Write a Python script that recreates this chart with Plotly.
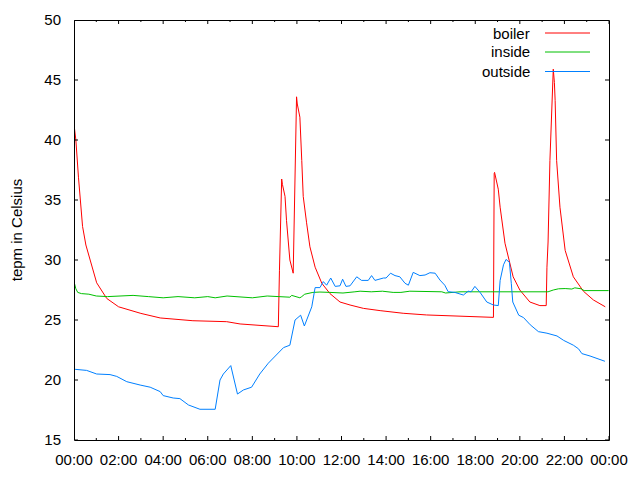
import plotly.graph_objects as go

DAY = "2020-01-01 "

boiler_t = ["00:00","00:05","00:12","00:18","00:23","00:32","00:48","01:01","01:28","02:00","03:00","03:52","05:20","06:51","07:27","08:20","09:10",
            "09:13","09:15","09:19","09:21","09:28","09:32","09:37","09:41","09:50","09:55","09:59","10:01","10:08","10:13","10:17","10:26","10:35","10:49",
            "11:07","11:29","11:56","12:23","12:59","13:44","14:46","15:49","16:52","17:19","18:49",
            "18:51","18:52","19:02","19:07","19:20","19:42","20:00","20:27","20:54","21:11",
            "21:13","21:16","21:21","21:26","21:30","21:33","21:35","21:39","21:48","22:02","22:24","22:51","23:18","23:50"]
boiler_v = [41.3,40.0,36.9,34.3,32.8,31.25,29.4,28.1,26.8,26.1,25.55,25.17,24.94,24.86,24.67,24.56,24.44,
            29.1,32.1,36.75,36.3,35.3,33.3,31.7,30.0,28.9,38.1,43.6,43.0,41.9,38.3,35.3,33.1,31.1,29.4,
            28.06,27.2,26.5,26.25,25.97,25.78,25.56,25.42,25.36,25.33,25.22,
            37.2,37.3,35.9,34.4,31.4,28.6,27.5,26.5,26.2,26.2,
            29.4,31.5,38.3,42.5,45.9,44.8,43.3,38.3,34.4,30.8,28.6,27.4,26.67,26.1]

inside_t = ["00:00","00:05","00:10","00:20","00:40","01:00","01:30","02:39","03:20","04:00","04:40","05:25","06:00","06:20","06:52","07:30","08:00","08:40","09:20",
            "09:41","09:46","09:55","10:08","10:13","10:21","10:43","11:02","11:29","12:04","12:36","12:50","13:20","13:50","14:19","14:40","15:04","15:50",
            "16:30","16:40","17:19","18:40","20:00","20:54","21:16","21:30","21:44","22:02","22:20","22:28","22:40","22:45","22:53","23:59"]
inside_v = [28.2,27.6,27.3,27.2,27.15,27.0,26.95,27.05,26.95,26.85,26.95,26.85,26.95,26.85,27.0,26.95,26.85,27.0,26.95,
            26.9,27.05,26.95,26.85,26.95,27.15,27.3,27.33,27.3,27.25,27.35,27.4,27.35,27.4,27.3,27.3,27.4,27.4,
            27.35,27.25,27.35,27.35,27.35,27.35,27.35,27.5,27.6,27.62,27.58,27.68,27.65,27.6,27.45,27.45]

outside_t = ["00:03","00:34","01:01","01:37","01:55","02:22","02:58","03:25","03:52","04:00","04:27","04:45","05:08","05:39","06:20",
             "06:33","06:42","07:02","07:20","07:36","07:58","08:20","08:43","09:06","09:24","09:41","09:55","10:10","10:20","10:40","10:49",
             "11:02","11:11","11:20","11:31","11:43","11:56","12:03","12:12","12:23","12:41","12:54","13:12","13:21","13:30","13:53","14:00",
             "14:12","14:24","14:37","14:51","15:00","15:13","15:31","15:45","15:58","16:12","16:25","16:38","16:47","17:05","17:28","17:41",
             "17:49","17:59","18:13","18:31","18:49","19:02","19:07","19:16","19:23","19:32","19:37","19:41","19:57","20:10","20:28","20:50",
             "21:13","21:40","21:58","22:24","22:38","22:47","23:09","23:27","23:40","23:49"]
outside_v = [20.89,20.8,20.5,20.45,20.3,19.86,19.58,19.4,19.03,18.7,18.5,18.45,17.92,17.56,17.56,
             20.0,20.5,21.2,18.83,19.17,19.4,20.5,21.4,22.1,22.7,22.9,25.0,25.4,24.5,26.1,27.7,
             27.7,28.2,27.9,28.5,27.8,27.85,28.4,27.8,27.85,28.6,28.3,28.3,28.7,28.3,28.5,28.5,
             28.9,28.7,28.6,28.06,27.9,28.97,28.7,28.75,28.94,28.9,28.33,27.9,27.36,27.3,27.08,27.4,
             27.35,27.8,27.3,26.5,26.25,26.2,28.3,29.6,30.05,29.8,28.06,26.5,25.4,25.2,24.6,24.03,
             23.9,23.67,23.3,22.9,22.6,22.2,22.0,21.8,21.6,21.56]

# tick positions (hourly ticks, labelled every 2 h; y every 5 degrees)
x_tick_hours = list(range(0, 25))
y_tick_values = [15, 20, 25, 30, 35, 40, 45, 50]

names = ["boiler", "inside", "outside"]
colors = ["#ff0000", "#00c000", "#0080ff"]
series = [(boiler_t, boiler_v), (inside_t, inside_v), (outside_t, outside_v)]

FONT = "Liberation Sans, Arial, sans-serif"
# page body has an 8px default margin, so the figure is sized/margined to land the
# plot area at x 74..609, y 20..440 of the 640x480 window
W, H = 632, 464
L, R, T, B = 66, 31, 12, 32
pw, ph = W - L - R, H - T - B
OX, OY = 8, 8

fig = go.Figure()
for name, color, (t, v) in zip(names, colors, series):
    fig.add_trace(go.Scatter(x=[DAY + s for s in t], y=v, mode="lines", name=name,
                             line=dict(color=color, width=1), showlegend=False))

# gnuplot-style legend (text left, sample right)
row_y = [33, 52, 71.5]
for name, color, yy in zip(names, colors, row_y):
    fy = 1 - (yy - OY - T) / ph
    fig.add_annotation(x=(532 - OX - L) / pw, y=fy, xref="x domain", yref="y domain",
                       text=name, showarrow=False, xanchor="right", yanchor="middle",
                       font=dict(family=FONT, size=15, color="#000"))
    fig.add_shape(type="line", xref="x domain", yref="y domain",
                  x0=(545 - OX - L) / pw, x1=(590 - OX - L) / pw, y0=fy, y1=fy,
                  line=dict(color=color, width=1))

# plot frame (paper shapes are not clipped to the plot area)
fig.add_shape(type="rect", xref="paper", yref="paper",
              x0=0.5 / pw, x1=1 + 0.5 / pw, y0=-0.5 / ph, y1=1 - 0.5 / ph,
              line=dict(color="#000", width=1), fillcolor="rgba(0,0,0,0)", layer="above")

# inside ticks on all four sides (major 4px, minor 2px)
def hour_str(h):
    return "2020-01-02 00:00" if h == 24 else DAY + "%02d:00" % h

for h in x_tick_hours:
    ln = 4 if h % 2 == 0 else 2
    xs = hour_str(h)
    fig.add_shape(type="line", xref="x", yref="paper", x0=xs, x1=xs, y0=0, y1=ln / ph,
                  line=dict(color="#000", width=1), layer="above")
    fig.add_shape(type="line", xref="x", yref="paper", x0=xs, x1=xs, y0=1, y1=1 - ln / ph,
                  line=dict(color="#000", width=1), layer="above")
for v in y_tick_values:
    fig.add_shape(type="line", xref="paper", yref="y", x0=0, x1=4 / pw, y0=v, y1=v,
                  line=dict(color="#000", width=1), layer="above")
    fig.add_shape(type="line", xref="paper", yref="y", x0=1, x1=1 - 4 / pw, y0=v, y1=v,
                  line=dict(color="#000", width=1), layer="above")

fig.update_layout(
    width=W, height=H,
    margin=dict(l=L, r=R, t=T, b=B),
    paper_bgcolor="white", plot_bgcolor="white",
    font=dict(family=FONT, size=15, color="black"),
)

# axis ticks are transparent spacers that set the label distance
fig.update_xaxes(
    type="date", range=["2020-01-01 00:00", "2020-01-02 00:00"],
    tickformat="%H:%M", dtick=7200000, tick0="2020-01-01 00:00",
    ticks="outside", ticklen=6, tickcolor="rgba(0,0,0,0)",
    showline=False, showgrid=False, zeroline=False, automargin=False,
)
fig.update_yaxes(
    range=[15, 50], dtick=5, tick0=15,
    ticks="outside", ticklen=9, tickcolor="rgba(0,0,0,0)",
    showline=False, showgrid=False, zeroline=False, automargin=False,
    title=dict(text="tepm in Celsius", font=dict(family=FONT, size=15), standoff=19),
)

fig.write_html("out.html", config={"displayModeBar": False})
